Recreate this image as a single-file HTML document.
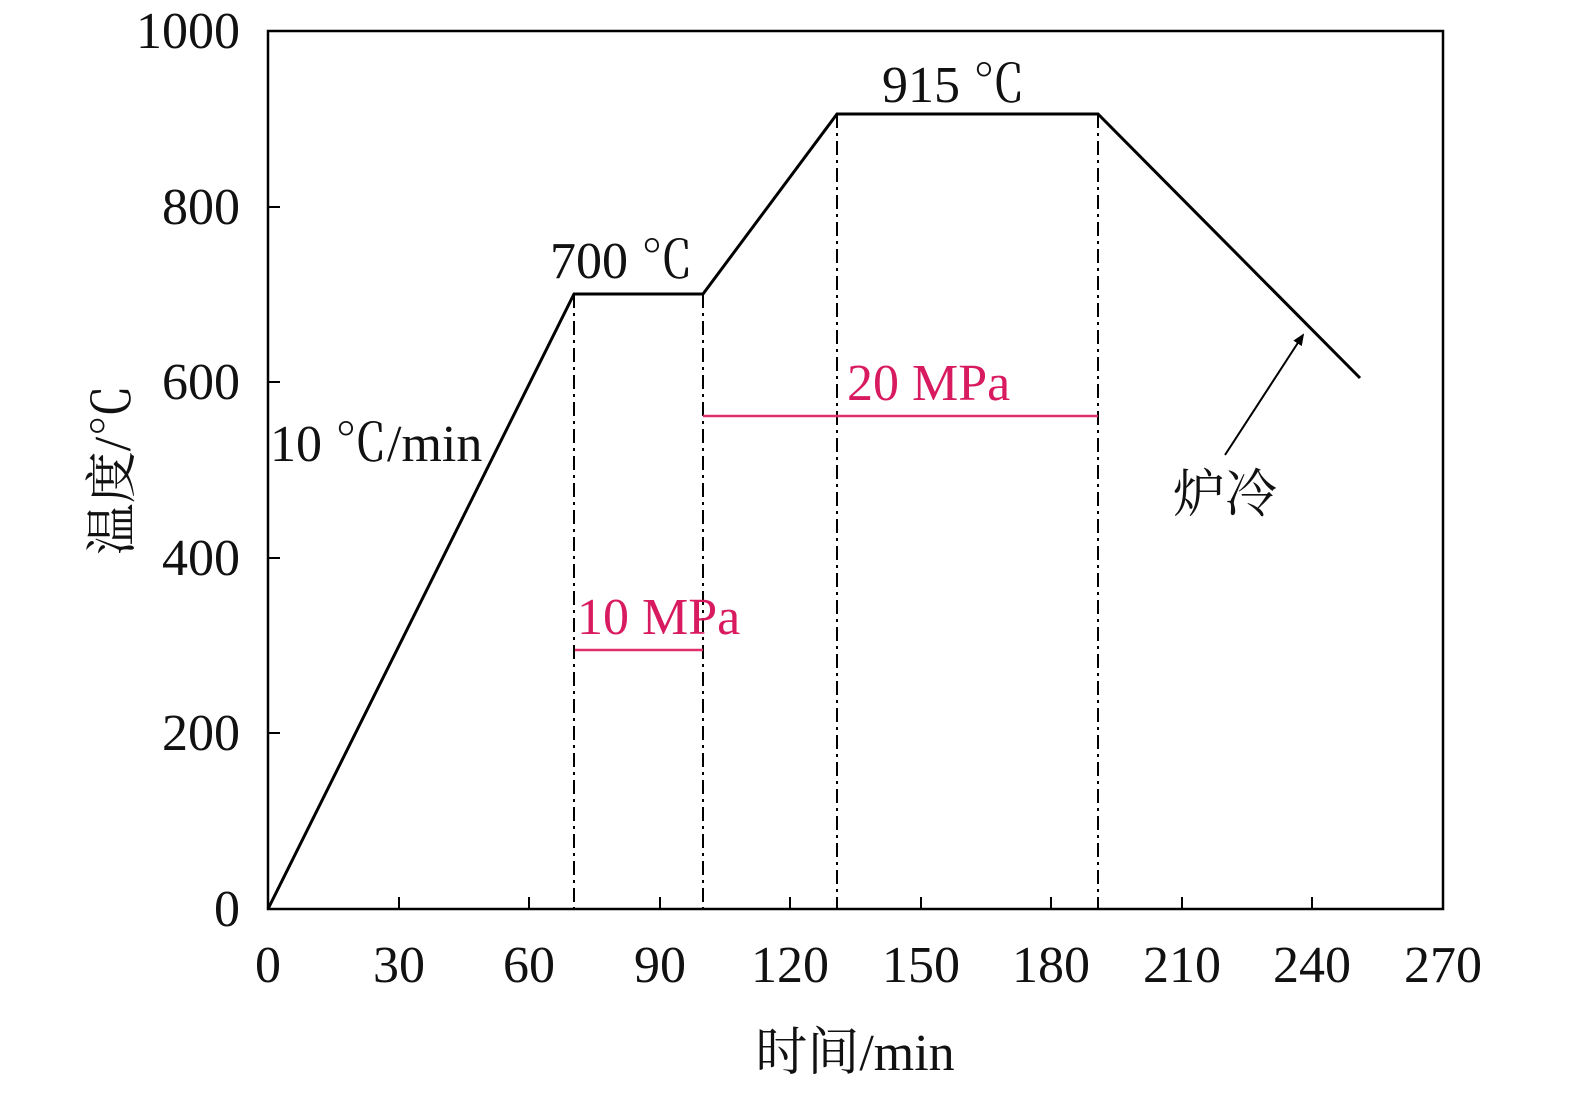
<!DOCTYPE html>
<html><head><meta charset="utf-8"><style>html,body{margin:0;padding:0;background:#fff;overflow:hidden}svg{display:block}</style></head>
<body>
<svg width="1575" height="1093" viewBox="0 0 1575 1093" xmlns="http://www.w3.org/2000/svg">
<defs><marker id="ah" markerWidth="12" markerHeight="12" refX="10" refY="6" orient="auto" markerUnits="userSpaceOnUse"><path d="M0,1 L12,6 L0,11 z" fill="#000"/></marker></defs>
<g font-family="'Liberation Serif','Noto Serif CJK SC',serif" font-size="52" fill="#111">
<rect x="268" y="31" width="1175" height="878" fill="none" stroke="#000" stroke-width="2.5"/>
<g stroke="#000" stroke-width="2">
<line x1="399" y1="909" x2="399" y2="897"/><line x1="529" y1="909" x2="529" y2="897"/><line x1="660" y1="909" x2="660" y2="897"/><line x1="790" y1="909" x2="790" y2="897"/><line x1="921" y1="909" x2="921" y2="897"/><line x1="1051" y1="909" x2="1051" y2="897"/><line x1="1182" y1="909" x2="1182" y2="897"/><line x1="1312" y1="909" x2="1312" y2="897"/>
<line x1="268" y1="733" x2="280" y2="733"/><line x1="268" y1="558" x2="280" y2="558"/><line x1="268" y1="382" x2="280" y2="382"/><line x1="268" y1="207" x2="280" y2="207"/>
</g>
<g text-anchor="middle">
<text x="268" y="982">0</text><text x="399" y="982">30</text><text x="529" y="982">60</text><text x="660" y="982">90</text><text x="790" y="982">120</text><text x="921" y="982">150</text><text x="1051" y="982">180</text><text x="1182" y="982">210</text><text x="1312" y="982">240</text><text x="1443" y="982">270</text>
</g>
<g text-anchor="end">
<text x="240" y="926">0</text><text x="240" y="750">200</text><text x="240" y="575">400</text><text x="240" y="399">600</text><text x="240" y="224">800</text><text x="240" y="48">1000</text>
</g>
<text x="855" y="1070" text-anchor="middle">时间/min</text>
<text transform="translate(130,470) rotate(-90)" text-anchor="middle">温度/℃</text>
<polyline points="268,909 574,294 703,294 837,114 1098,114 1360,378" fill="none" stroke="#000" stroke-width="3"/>
<g stroke="#000" stroke-width="2" stroke-dasharray="14,5,3,5">
<line x1="574" y1="294" x2="574" y2="909"/><line x1="703" y1="294" x2="703" y2="909"/><line x1="837" y1="114" x2="837" y2="909"/><line x1="1098" y1="114" x2="1098" y2="909"/>
</g>
<g stroke="#e0306a" stroke-width="2.5"><line x1="575" y1="650" x2="703" y2="650"/><line x1="703" y1="416" x2="1098" y2="416"/></g>
<text x="577" y="634" fill="#d81b60">10 MPa</text>
<text x="847" y="400" fill="#d81b60">20 MPa</text>
<text x="550" y="278">700 ℃</text>
<text x="882" y="102">915 ℃</text>
<text x="270" y="461">10 ℃/min</text>
<line x1="1225" y1="455" x2="1303" y2="335" stroke="#000" stroke-width="2" marker-end="url(#ah)"/>
<text x="1173" y="512">炉冷</text>
</g>
</svg>
</body></html>
